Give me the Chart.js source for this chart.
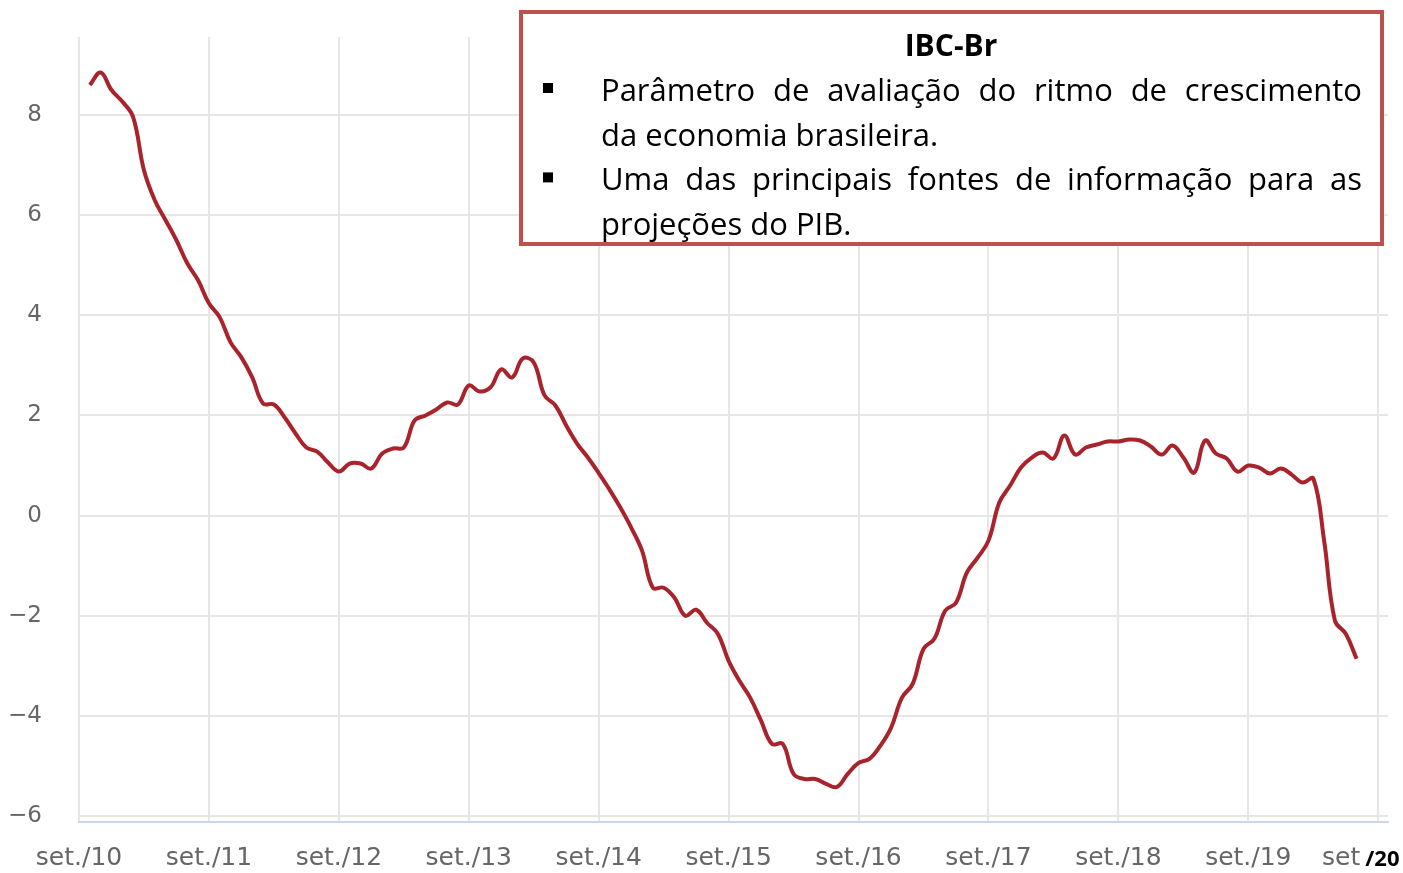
<!DOCTYPE html>
<html>
<head>
<meta charset="utf-8">
<script src="https://cdn.jsdelivr.net/npm/chart.js@4.4.0/dist/chart.umd.min.js"></script>
<style>
  body { margin: 0; background: #fff; }
  #grafico { display: block; }
</style>
</head>
<body>
<canvas id="grafico" width="1403" height="873"></canvas>
<script>
// IBC-Br, variação acumulada em 12 meses (%), out/10 a jul/20
const START_MONTH = 1; // meses depois de set/10
const IBC_VALUES = [
    8.6, 8.85, 8.5, 8.27, 7.96, 6.9, 6.3, 5.9, 5.5, 5.04, 4.7, 4.24,
    3.96, 3.46, 3.16, 2.76, 2.24, 2.22, 1.96, 1.64, 1.36, 1.28, 1.06, 0.88,
    1.04, 1.04, 0.94, 1.24, 1.34, 1.36, 1.9, 2.0, 2.12, 2.26, 2.22, 2.6,
    2.48, 2.56, 2.92, 2.76, 3.14, 3.06, 2.4, 2.2, 1.8, 1.44, 1.16, 0.85,
    0.52, 0.16, -0.24, -0.7, -1.44, -1.44, -1.64, -2.0, -1.88, -2.14, -2.36, -2.9,
    -3.3, -3.64, -4.1, -4.56, -4.56, -5.16, -5.26, -5.26, -5.36, -5.42, -5.16, -4.94,
    -4.86, -4.6, -4.24, -3.64, -3.36, -2.66, -2.46, -1.9, -1.74, -1.14, -0.84, -0.5,
    0.26, 0.6, 0.96, 1.16, 1.26, 1.14, 1.6, 1.22, 1.36, 1.42, 1.48, 1.48,
    1.52, 1.5, 1.38, 1.22, 1.4, 1.16, 0.86, 1.5, 1.24, 1.14, 0.88, 1.0,
    0.96, 0.84, 0.94, 0.82, 0.66, 0.74, -0.5, -2.1, -2.36, -2.86
];
const X_TICK_LABELS = ['set./10', 'set./11', 'set./12', 'set./13', 'set./14', 'set./15',
    'set./16', 'set./17', 'set./18', 'set./19', 'set./20'];
const Y_TICKS = [-6, -4, -2, 0, 2, 4, 6, 8];

const BOX_TITLE = 'IBC-Br';
const BOX_LINES = [
    { text: 'Parâmetro de avaliação do ritmo de crescimento', bullet: true, justify: true },
    { text: 'da economia brasileira.', bullet: false, justify: false },
    { text: 'Uma das principais fontes de informação para as', bullet: true, justify: true },
    { text: 'projeções do PIB.', bullet: false, justify: false }
];

const points = IBC_VALUES.map((v, i) => ({ x: START_MONTH + i, y: v }));

function drawJustified(ctx, text, x, y, width) {
    const words = text.split(' ');
    const total = words.reduce((s, w) => s + ctx.measureText(w).width, 0);
    const gap = (width - total) / (words.length - 1);
    let cx = x;
    words.forEach(w => {
        ctx.fillText(w, cx, y);
        cx += ctx.measureText(w).width + gap;
    });
}

const caixaTexto = {
    id: 'caixaTexto',
    afterDraw(chart) {
        const ctx = chart.ctx;
        const xs = chart.scales.x;
        ctx.save();

        // rótulo final do eixo x ("set" + "/20")
        const px = xs.getPixelForValue(120);
        ctx.textBaseline = 'middle';
        ctx.fillStyle = '#666';
        ctx.font = '25px "DejaVu Sans"';
        ctx.textAlign = 'right';
        ctx.fillText('set', px - 18, 858);
        ctx.fillStyle = '#000';
        ctx.font = 'bold 22px "Open Sans"';
        ctx.textAlign = 'left';
        ctx.fillText('/20', px - 13, 860);

        // caixa de texto
        ctx.fillStyle = '#fff';
        ctx.fillRect(519, 10, 865, 236);
        ctx.strokeStyle = '#c0504d';
        ctx.lineWidth = 4;
        ctx.strokeRect(521, 12, 861, 232);

        ctx.fillStyle = '#000';
        ctx.textBaseline = 'alphabetic';
        ctx.font = 'bold 30px "Open Sans"';
        ctx.textAlign = 'center';
        ctx.fillText(BOX_TITLE, 951, 56);

        ctx.font = '31px "Open Sans"';
        ctx.textAlign = 'left';
        BOX_LINES.forEach((ln, i) => {
            const y = 101 + i * 44.7;
            if (ln.bullet) ctx.fillRect(543, y - 18, 10, 10);
            if (ln.justify) drawJustified(ctx, ln.text, 601, y, 761);
            else ctx.fillText(ln.text, 601, y);
        });
        ctx.restore();
    }
};

new Chart(document.getElementById('grafico').getContext('2d'), {
    type: 'line',
    data: {
        datasets: [{
            label: 'IBC-Br',
            data: points,
            borderColor: '#a8232b',
            borderWidth: 4,
            pointRadius: 0,
            tension: 0.4,
            fill: false
        }]
    },
    options: {
        responsive: false,
        animation: false,
        layout: { padding: { top: 37, right: 15, left: 0, bottom: 0 } },
        plugins: { legend: { display: false }, tooltip: { enabled: false } },
        scales: {
            x: {
                type: 'linear',
                min: 0,
                max: 120.9,
                afterBuildTicks: s => { s.ticks = X_TICK_LABELS.map((_, i) => ({ value: i * 12 })); },
                afterFit: s => { s.height = 51; },
                ticks: {
                    autoSkip: false,
                    maxRotation: 0,
                    padding: 21,
                    color: '#666',
                    font: { family: 'DejaVu Sans', size: 25 },
                    callback: v => (v === 120 ? '' : X_TICK_LABELS[v / 12])
                },
                grid: { color: '#e6e6e6', lineWidth: 2, drawTicks: false },
                border: { color: '#ccd6eb', width: 2 }
            },
            y: {
                min: -6.12,
                max: 9.56,
                afterBuildTicks: s => { s.ticks = Y_TICKS.map(v => ({ value: v })); },
                afterFit: s => { s.width = 79; s.paddingTop = 0; s.paddingBottom = 0; },
                ticks: {
                    padding: 37,
                    color: '#666',
                    font: { family: 'DejaVu Sans', size: 23 },
                    callback: v => String(v).replace('-', '\u2212')
                },
                grid: { color: '#e6e6e6', lineWidth: 2, drawTicks: false },
                border: { display: false }
            }
        }
    },
    plugins: [caixaTexto]
});
</script>
</body>
</html>
